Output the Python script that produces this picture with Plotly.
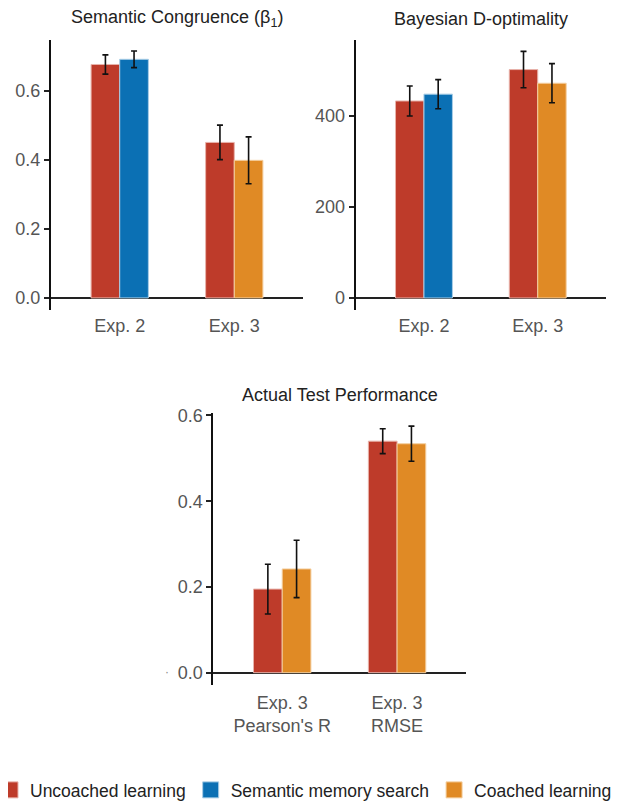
import plotly.graph_objects as go

OFF = 8  # page body margin of the browser
W, H = 639 - OFF, 802 - OFF
MB = 40  # bottom margin (legend lives below the plot area)

# ---- data ----
exp_cats = ["Exp. 2", "Exp. 3"]
perf_cats = ["Exp. 3<br>Pearson's R", "Exp. 3<br>RMSE"]

sc_uncoached = [0.677, 0.451]
sc_uncoached_err = [0.028, 0.050]
sc_semantic = [0.692]
sc_semantic_err = [0.024]
sc_coached = [0.399]
sc_coached_err = [0.068]

dopt_uncoached = [433, 502]
dopt_uncoached_err = [33, 40]
dopt_semantic = [448]
dopt_semantic_err = [32]
dopt_coached = [472]
dopt_coached_err = [43]

perf_uncoached = [0.195, 0.540]
perf_uncoached_err = [0.058, 0.029]
perf_coached = [0.242, 0.534]
perf_coached_err = [0.067, 0.041]

series_names = ["Uncoached learning", "Semantic memory search", "Coached learning"]
colors = ["#BE3B2A", "#0B70B4", "#E08A25"]
outline = ["#E8B3AB", "#A9CDE6", "#F4CFA0"]

FONT = "Liberation Sans, Arial, sans-serif"
TXT = "#222222"
TICK = "#555555"

fig = go.Figure()


def bar(xs, ys, errs, idx, ax, offset):
    fig.add_trace(go.Bar(
        x=xs, y=ys, name=series_names[idx], legendgroup=series_names[idx],
        showlegend=False, offset=offset, width=0.25,
        marker=dict(color=colors[idx], line=dict(color=outline[idx], width=1)),
        error_y=dict(type="data", array=errs, visible=True, color="#111111",
                     thickness=1.6, width=3),
        xaxis="x" + ax, yaxis="y" + ax,
    ))


# panel 1
bar(exp_cats, sc_uncoached, sc_uncoached_err, 0, "", -0.25)
bar(exp_cats[:1], sc_semantic, sc_semantic_err, 1, "", 0.0)
bar(exp_cats[1:], sc_coached, sc_coached_err, 2, "", 0.0)
# panel 2
bar(exp_cats, dopt_uncoached, dopt_uncoached_err, 0, "2", -0.25)
bar(exp_cats[:1], dopt_semantic, dopt_semantic_err, 1, "2", 0.0)
bar(exp_cats[1:], dopt_coached, dopt_coached_err, 2, "2", 0.0)
# panel 3
bar(perf_cats, perf_uncoached, perf_uncoached_err, 0, "3", -0.25)
bar(perf_cats, perf_coached, perf_coached_err, 2, "3", 0.0)

# legend keys (larger square swatches)
for i, nm in enumerate(series_names):
    fig.add_trace(go.Scatter(
        x=[None], y=[None], mode="markers", name=nm, legendgroup=nm,
        marker=dict(symbol="square", size=16, color=colors[i],
                    line=dict(color=outline[i], width=1)),
        showlegend=True, hoverinfo="skip",
    ))

PW, PH = W, H - MB


def px_x(p):
    return (p - OFF) / PW


def px_y(p):
    return 1 - (p - OFF) / PH


def xax(x0, x1, anchor, standoff):
    return dict(domain=[px_x(x0), px_x(x1)], type="category", range=[-0.6, 1.6],
                showline=False, showgrid=False, zeroline=False, ticks="",
                ticklabelstandoff=standoff,
                tickfont=dict(family=FONT, size=18, color=TICK),
                anchor=anchor, fixedrange=True)


def yax(y0, y1, rng, anchor, dtick):
    return dict(domain=[px_y(y1), px_y(y0)], range=rng, showline=True,
                linecolor="#111111", linewidth=2, showgrid=False,
                zeroline=True, zerolinecolor="#222222", zerolinewidth=2,
                ticks="outside", ticklen=5, tickwidth=1.5, tickcolor="#222222",
                dtick=dtick, tickfont=dict(family=FONT, size=18, color=TICK),
                anchor=anchor, fixedrange=True)


def title(text, x, y):
    return dict(text=text, x=px_x(x), y=px_y(y), xref="paper", yref="paper",
                showarrow=False, xanchor="center", yanchor="middle",
                font=dict(family=FONT, size=18, color=TXT))


fig.update_layout(
    width=W, height=H, margin=dict(l=0, r=0, t=0, b=MB, autoexpand=False),
    paper_bgcolor="white", plot_bgcolor="white", barmode="overlay",
    font=dict(family=FONT, size=18, color=TXT),
    xaxis=xax(51, 303, "y", 3),
    yaxis=dict(yax(40, 310, [-0.035, 0.748], "x", 0.2), tickformat=".1f"),
    xaxis2=xax(355.7, 606, "y2", 3),
    yaxis2=yax(40, 310, [-26.4, 567], "x2", 200),
    xaxis3=xax(213.3, 466, "y3", 5),
    yaxis3=dict(yax(413.3, 685, [-0.0287, 0.605], "x3", 0.2), tickformat=".1f"),
    legend=dict(orientation="h", x=-18 / PW, xanchor="left", y=px_y(790), yanchor="middle",
                font=dict(family=FONT, size=17.5, color=TXT),
                itemclick=False, itemdoubleclick=False, traceorder="normal",
                bgcolor="rgba(0,0,0,0)"),
    showlegend=True,
    annotations=[
        title("Semantic Congruence (β<sub>1</sub>)", 177, 19),
        title("Bayesian D-optimality", 481, 19),
        title("Actual Test Performance", 340, 395),
        dict(text="·", x=px_x(167), y=px_y(672),
             xref="paper", yref="paper", showarrow=False, xanchor="center", yanchor="middle",
             font=dict(family=FONT, size=12, color="#888888")),
    ],
)

fig.write_html("out.html")
